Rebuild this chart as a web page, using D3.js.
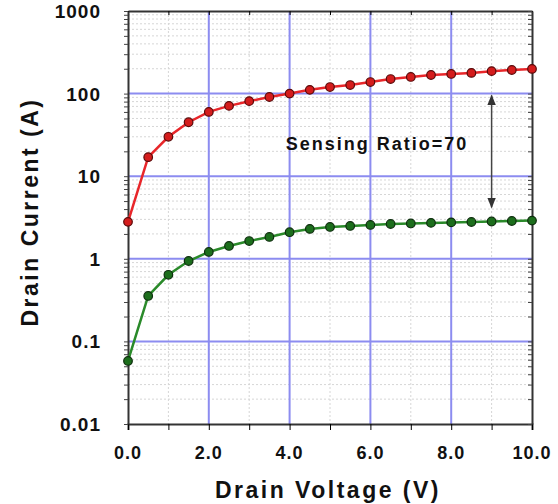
<!DOCTYPE html>
<html lang="en">
<head>
<meta charset="UTF-8"/>
<title>Drain current vs drain voltage</title>
<script src="https://cdn.jsdelivr.net/npm/d3@7"></script>
<style>
  body { margin: 0; background: #fff; }
  svg { display: block; font-family: Arial, "Liberation Sans", sans-serif; }
  .tick-label { font-size: 18px; font-weight: bold; fill: #111; letter-spacing: 1px; }
  .axis-title { font-size: 23px; font-weight: bold; fill: #111; letter-spacing: 2.5px; }
  .note { font-size: 18px; font-weight: bold; fill: #111; letter-spacing: 2px; }
</style>
</head>
<body>
<svg width="558" height="504"></svg>
<script>
// drain voltage (V)
const voltage = [0, 0.5, 1, 1.5, 2, 2.5, 3, 3.5, 4, 4.5, 5, 5.5, 6, 6.5, 7, 7.5, 8, 8.5, 9, 9.5, 10];
// main device current (A)
const mainCurrent = [2.8, 17, 30, 45, 60, 71, 81, 91, 100, 111, 120, 127, 138, 150, 159, 168, 173, 178, 187, 193, 199];
// sense device current (A)
const senseCurrent = [0.058, 0.355, 0.64, 0.94, 1.21, 1.43, 1.64, 1.84, 2.1, 2.3, 2.43, 2.5, 2.57, 2.64, 2.68, 2.72, 2.76, 2.79, 2.83, 2.87, 2.9];
const xTicks = [0, 2, 4, 6, 8, 10];
const yTicks = [0.01, 0.1, 1, 10, 100, 1000];
const yTickLabels = ['0.01', '0.1', '1', '10', '100', '1000'];
// arrow marking the ratio, in data units
const arrowX = 9;
const arrowFrom = 95, arrowTo = 4.2;
const noteText = 'Sensing Ratio=70';

const svg = d3.select('svg');
const plotLeft = 128, plotRight = 532, plotTop = 11, plotBottom = 424;

const x = d3.scaleLinear().domain([0, 10]).range([plotLeft, plotRight]);
const y = d3.scaleLog().domain([0.01, 1000]).range([plotBottom, plotTop]);

// minor values
const minorY = [];
for (let e = -2; e < 3; e++) {
  for (let m = 2; m <= 9; m++) minorY.push(m * Math.pow(10, e));
}
const minorX = [1, 3, 5, 7, 9];

const grid = svg.append('g');
grid.selectAll('.my').data(minorY).enter().append('line')
  .attr('x1', plotLeft).attr('x2', plotRight)
  .attr('y1', d => y(d)).attr('y2', d => y(d))
  .attr('stroke', '#d6d6d6').attr('stroke-width', 1).attr('stroke-dasharray', '2 2');
grid.selectAll('.mx').data(minorX).enter().append('line')
  .attr('y1', plotTop).attr('y2', plotBottom)
  .attr('x1', d => x(d)).attr('x2', d => x(d))
  .attr('stroke', '#d6d6d6').attr('stroke-width', 1).attr('stroke-dasharray', '2 2');
grid.selectAll('.gy').data(yTicks.slice(1, -1)).enter().append('line')
  .attr('x1', plotLeft).attr('x2', plotRight)
  .attr('y1', d => y(d)).attr('y2', d => y(d))
  .attr('stroke', '#8c8cf0').attr('stroke-width', 2);
grid.selectAll('.gx').data(xTicks.slice(1, -1)).enter().append('line')
  .attr('y1', plotTop).attr('y2', plotBottom)
  .attr('x1', d => x(d)).attr('x2', d => x(d))
  .attr('stroke', '#8c8cf0').attr('stroke-width', 2);

// axes
const allX = d3.range(0, 11);
svg.append('g')
  .attr('transform', `translate(0,${plotBottom})`)
  .call(d3.axisBottom(x).tickValues(allX).tickSize(6).tickFormat(''))
  .call(g => g.select('.domain').attr('stroke', '#333').attr('stroke-width', 2));
svg.append('g')
  .attr('transform', `translate(0,${plotTop})`)
  .call(d3.axisBottom(x).tickValues(allX).tickSize(4).tickFormat('').tickSizeOuter(0))
  .call(g => g.select('.domain').attr('stroke', '#333').attr('stroke-width', 2));
svg.append('g')
  .attr('transform', `translate(${plotLeft},0)`)
  .call(d3.axisLeft(y).tickValues(yTicks.concat(minorY)).tickSize(4).tickFormat('').tickSizeOuter(0))
  .call(g => g.select('.domain').attr('stroke', '#333').attr('stroke-width', 2))
  .call(g => g.selectAll('.tick line').attr('stroke', '#444'));
svg.append('g')
  .attr('transform', `translate(${plotRight},0)`)
  .call(d3.axisLeft(y).tickValues(yTicks.concat(minorY)).tickSize(4).tickFormat('').tickSizeOuter(0))
  .call(g => g.select('.domain').attr('stroke', '#333').attr('stroke-width', 2))
  .call(g => g.selectAll('.tick line').attr('stroke', '#444'));

svg.selectAll('.xl').data(xTicks).enter().append('text')
  .attr('class', 'tick-label')
  .attr('x', d => x(d)).attr('y', 459)
  .attr('text-anchor', 'middle')
  .text(d => d.toFixed(1));
svg.selectAll('.yl').data(yTicks).enter().append('text')
  .attr('class', 'tick-label')
  .attr('x', 101).attr('y', d => y(d) + 7)
  .attr('text-anchor', 'end')
  .style('font-size', '19px')
  .text((d, i) => yTickLabels[i]);

svg.append('text').attr('class', 'axis-title')
  .attr('x', 328).attr('y', 498).attr('text-anchor', 'middle')
  .text('Drain Voltage (V)');
svg.append('text').attr('class', 'axis-title')
  .attr('transform', 'translate(38,212) rotate(-90)')
  .attr('text-anchor', 'middle')
  .text('Drain Current (A)');

// series
const line = d3.line().x((d, i) => x(voltage[i])).y(d => y(d));
function drawSeries(vals, stroke, fill, edge) {
  svg.append('path').datum(vals)
    .attr('d', line).attr('fill', 'none')
    .attr('stroke', stroke).attr('stroke-width', 2.5);
  svg.selectAll(null).data(vals).enter().append('circle')
    .attr('cx', (d, i) => x(voltage[i])).attr('cy', d => y(d))
    .attr('r', 4.3).attr('fill', fill)
    .attr('stroke', edge).attr('stroke-width', 1.2);
}
drawSeries(mainCurrent, '#e8262a', '#d41c1c', '#5a0a0a');
drawSeries(senseCurrent, '#2a8a2a', '#1c6e1c', '#0e2e0e');

// annotation
const defs = svg.append('defs');
defs.append('marker').attr('id', 'ah')
  .attr('viewBox', '0 0 10 10').attr('refX', 9).attr('refY', 5)
  .attr('markerWidth', 7).attr('markerHeight', 7).attr('orient', 'auto-start-reverse')
  .append('path').attr('d', 'M0,1 L10,5 L0,9 Z').attr('fill', '#333');
svg.append('line')
  .attr('x1', x(arrowX)).attr('x2', x(arrowX))
  .attr('y1', y(arrowFrom)).attr('y2', y(arrowTo))
  .attr('stroke', '#444').attr('stroke-width', 1.5)
  .attr('marker-start', 'url(#ah)').attr('marker-end', 'url(#ah)');
svg.append('text').attr('class', 'note')
  .attr('x', 377).attr('y', 150).attr('text-anchor', 'middle')
  .text(noteText);
</script>
</body>
</html>
